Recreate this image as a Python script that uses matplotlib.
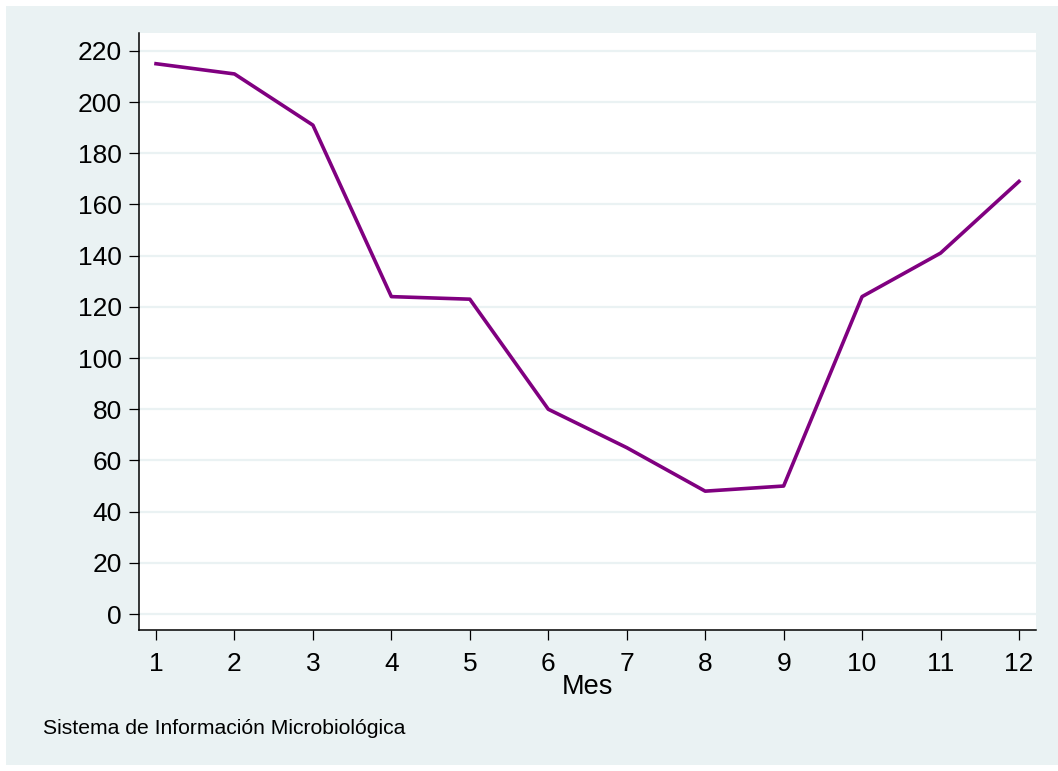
import numpy as np
import matplotlib
matplotlib.use("Agg")
from matplotlib import pyplot as plt
from matplotlib.patches import Rectangle

plt.rcParams['font.family'] = ['Liberation Sans', 'DejaVu Sans']

months = [1, 2, 3, 4, 5, 6, 7, 8, 9, 10, 11, 12]
counts = [215, 211, 191, 124, 123, 80, 65, 48, 50, 124, 141, 169]
y_ticks = [0, 20, 40, 60, 80, 100, 120, 140, 160, 180, 200, 220]

bg = '#eaf2f3'
W, H = 1058, 771

fig = plt.figure(figsize=(W / 100, H / 100), dpi=100)
fig.patch.set_facecolor('white')
# light panel behind everything, with a thin white border
fig.patches.append(Rectangle((6 / W, 6 / H), 1 - 6 / W, 1 - 12 / H,
                             transform=fig.transFigure, facecolor=bg,
                             edgecolor='none', zorder=-10))

ax = fig.add_axes([139 / W, 1 - 630 / H, (1036 - 139) / W, (630 - 33) / H])
ax.set_facecolor('white')

ax.plot(months, counts, color='#800080', linewidth=2.6, zorder=3)

ax.set_xlim(0.783, 12.217)
ax.set_ylim(-6.25, 227.0)
ax.set_xticks(months)
ax.set_yticks(y_ticks)
ax.yaxis.grid(True, color=bg, linewidth=1.6)
ax.set_axisbelow(True)

for side in ['top', 'right']:
    ax.spines[side].set_visible(False)
for side in ['left', 'bottom']:
    ax.spines[side].set_linewidth(1.1)

ax.tick_params(axis='both', length=7.5, width=0.9, labelsize=19)
ax.tick_params(axis='y', pad=5)
ax.tick_params(axis='x', pad=8)
ax.set_xlabel('Mes', fontsize=19.5, labelpad=-1)

fig.text(43 / W, 1 - 728 / H, 'Sistema de Información Microbiológica',
         fontsize=15.2, va='center', ha='left')

fig.savefig('out.png', dpi=100, facecolor=fig.get_facecolor())
